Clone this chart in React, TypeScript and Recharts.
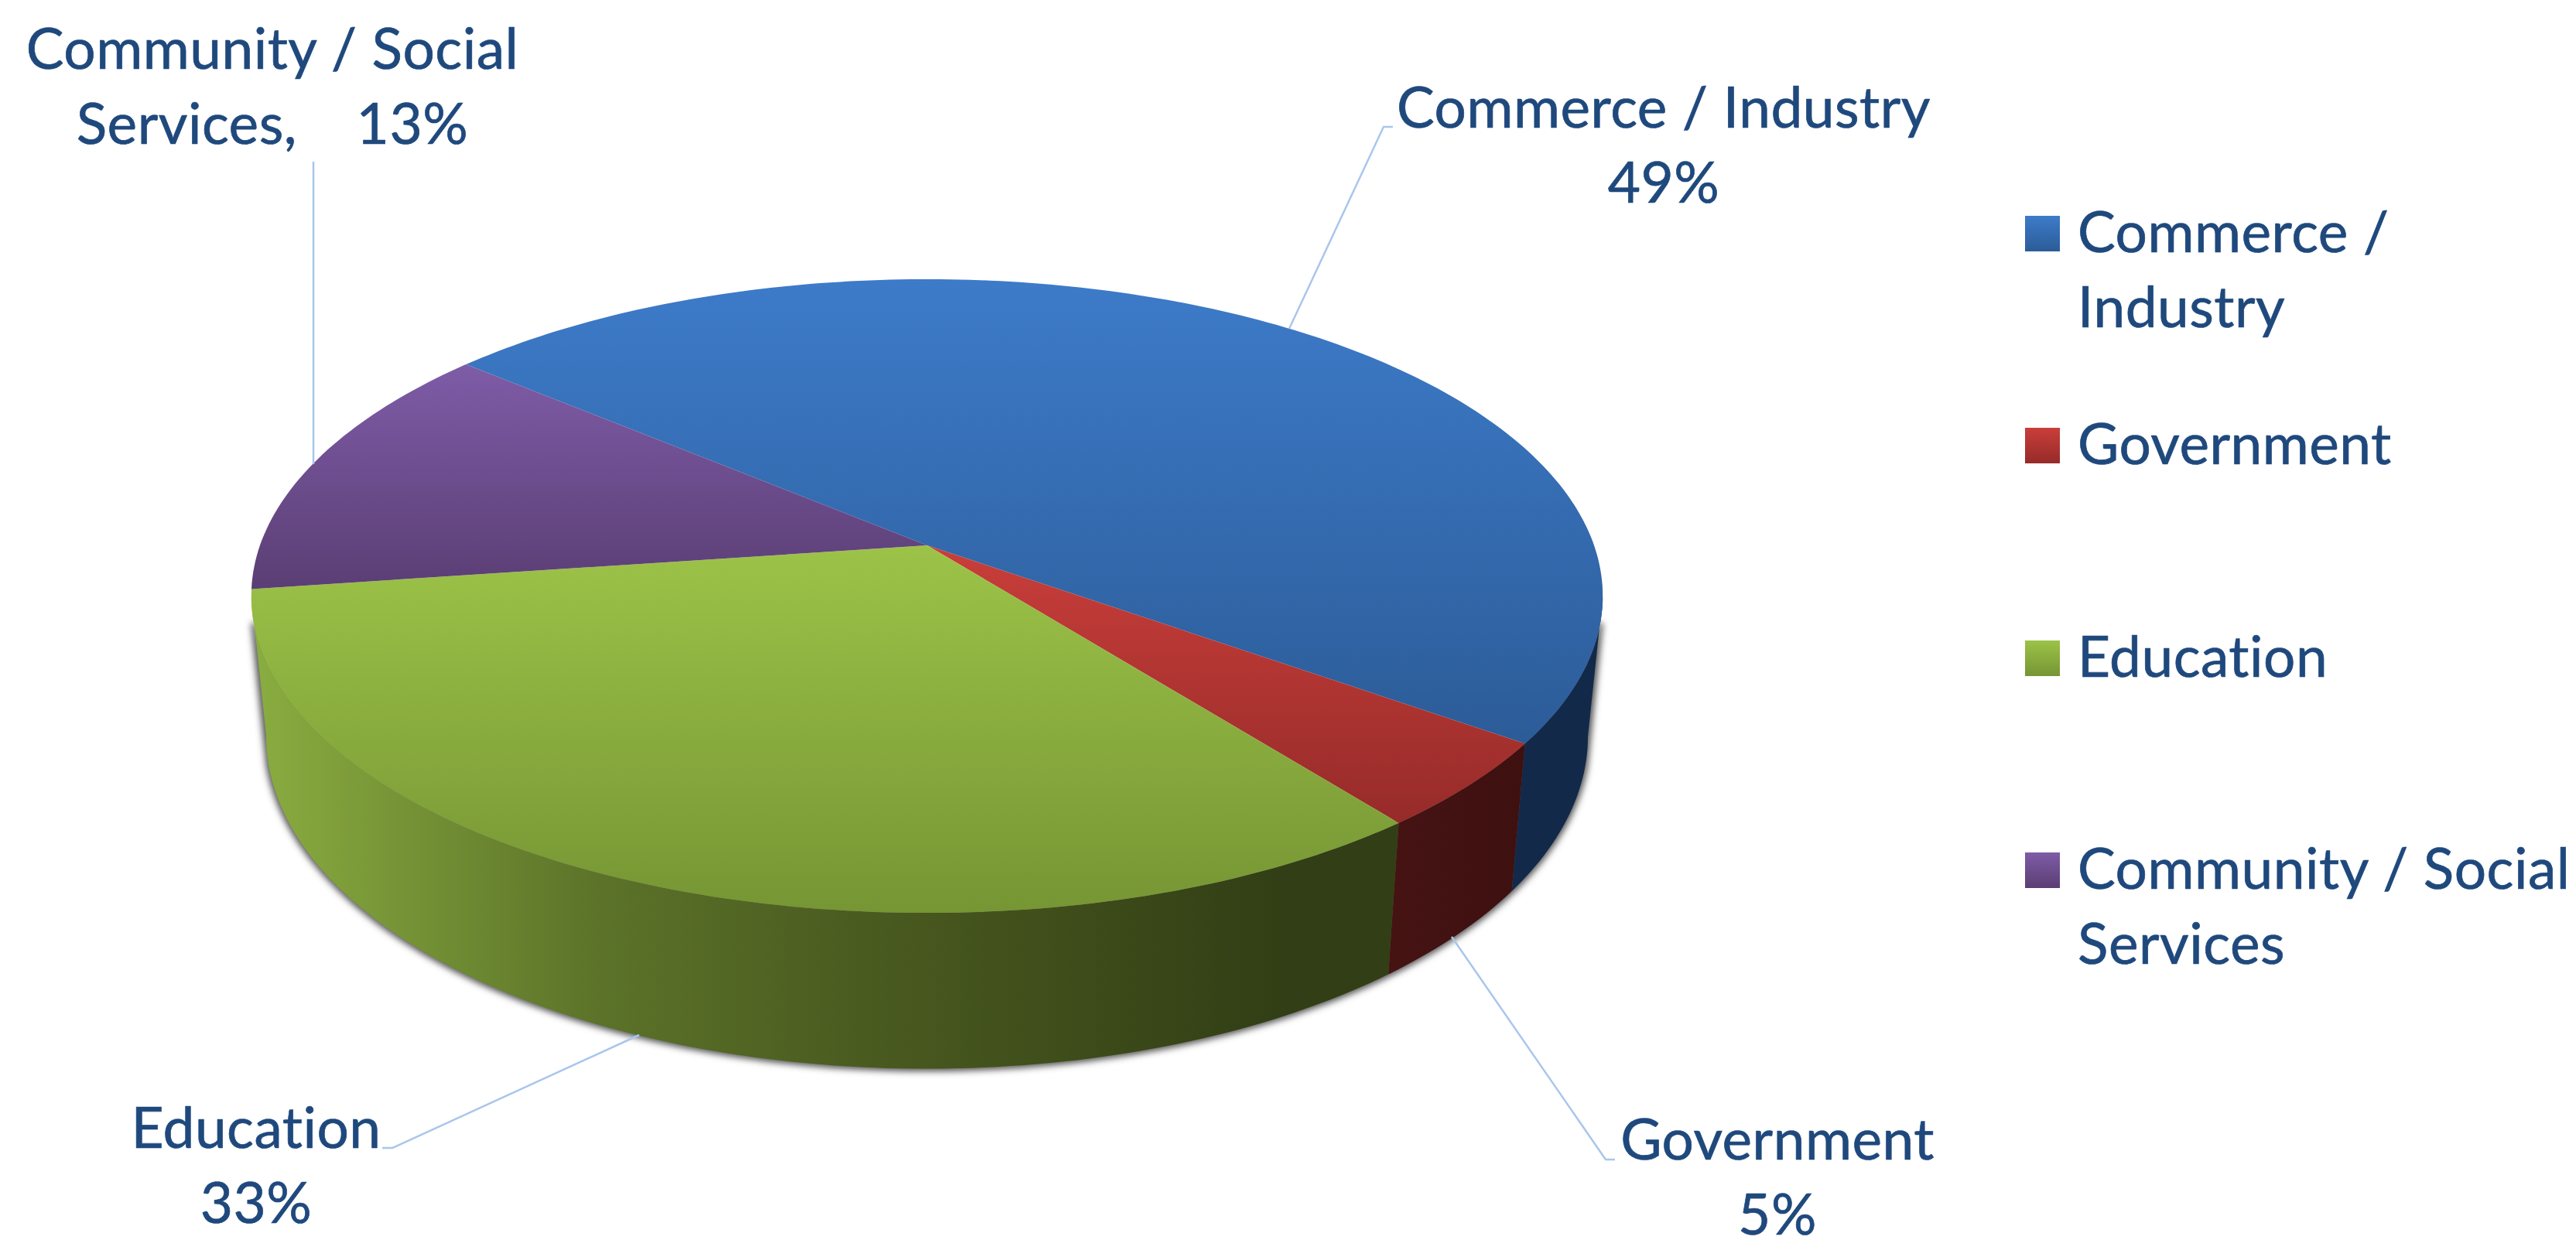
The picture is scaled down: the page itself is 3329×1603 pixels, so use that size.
import { PieChart, Pie, Legend } from "recharts";

const categories = ["Commerce / Industry", "Government", "Education", "Community / Social Services"];
// printed as whole percents, the slice angles sit slightly off those
const shares = [48.7, 4.5, 33.4, 13.4];
const labelNames = ["Commerce / Industry", "Government", "Education", "Community / Social"];
const labelPrefixes = ["", "", "", "Services,    "];
const legendLines = [["Commerce /", "Industry"], ["Government"], ["Education"], ["Community / Social", "Services"]];

const topColors = [
  ["#3d7bc9", "#2c5c98"],
  ["#c93e3a", "#962b29"],
  ["#9cc348", "#769534"],
  ["#7e5ca7", "#5b3e74"],
];
const sideStops: [number, string][][] = [
  [[0, "#12294a"], [1, "#12294a"]],
  [[0, "#461313"], [1, "#3e1010"]],
  [[0, "#8aad40"], [0.3, "#5c7329"], [0.52, "#4b5c20"], [0.9, "#323e15"]],
  [[0, "#5b3e74"], [1, "#5b3e74"]],
];

const W = 3329;
const H = 1603;
const CX = 1198;
const CY = 705;
const RADIUS = 862;
const TEXT = "#1f497d";
const LEADER = "#a9c6ec";
const FONT = "Lato, sans-serif";
const FONT_SIZE = 73;

const textStyle = { whiteSpace: "pre", fontVariantLigatures: "none", letterSpacing: 0.5 } as const;

// fake perspective for the tilted disc
const TILT = 0.16;
const SQUASH = 0.463;
const DEPTH = 178;
const BASE_SCALE = 0.978;
const RAD = Math.PI / 180;

function project(cx: number, cy: number, r: number, deg: number, lower: boolean) {
  const u = Math.cos(deg * RAD);
  const v = -Math.sin(deg * RAD);
  const w = 1 - TILT * v;
  const x = (r * u) / w;
  const y = (r * SQUASH * v) / w;
  if (!lower) return [cx + x, cy + y];
  return [cx + BASE_SCALE * x, cy + BASE_SCALE * y + DEPTH / w];
}

function sweep(start: number, end: number) {
  const out = [start];
  const dir = end < start ? -1 : 1;
  for (let a = start + dir; dir * (end - a) > 0; a += dir) out.push(a);
  out.push(end);
  return out;
}

const toPath = (pts: number[][]) => "M" + pts.map((p) => p[0].toFixed(1) + " " + p[1].toFixed(1)).join("L") + "Z";

function DiscSlice(props: any) {
  const { cx, cy, outerRadius, startAngle, endAngle, index } = props;
  const angles = sweep(startAngle, endAngle);
  const top = [[cx, cy], ...angles.map((a) => project(cx, cy, outerRadius, a, false))];
  const front = angles.filter((a) => Math.sin(a * RAD) <= -TILT + 0.001);
  const side =
    front.length > 1
      ? [
          ...front.map((a) => project(cx, cy, outerRadius, a, false)),
          ...front.slice().reverse().map((a) => project(cx, cy, outerRadius, a, true)),
        ]
      : null;
  return (
    <g>
      {side && <path d={toPath(side)} fill={`url(#side${index})`} />}
      <path d={toPath(top)} fill={`url(#top${index})`} />
    </g>
  );
}

const labelBaselines = [165, 1499, 1484, 89];
const labelCenters = [2150, 2297, 331, 352];
const leaderPoints = [
  [[1666, 425], [1788, 164], [1800, 164]],
  [[1876, 1211], [2075, 1499], [2087, 1499]],
  [[826, 1338], [507, 1484], [494, 1484]],
  [[405, 600], [405, 209]],
];

function SliceLabel(props: any) {
  const i = props.index;
  const lines = [labelNames[i], labelPrefixes[i] + Math.round(shares[i]) + "%"];
  return (
    <g>
      <polyline points={leaderPoints[i].map((p) => p.join(",")).join(" ")} fill="none" stroke={LEADER} strokeWidth={2.5} />
      {lines.map((line, n) => (
        <text
          key={n}
          x={labelCenters[i]}
          y={labelBaselines[i] + n * 97}
          textAnchor="middle"
          fill={TEXT}
          stroke={TEXT}
          strokeWidth={0.7}
          fontFamily={FONT}
          fontSize={FONT_SIZE}
          style={textStyle}
        >
          {line}
        </text>
      ))}
    </g>
  );
}

const legendBaselines = [326, 600, 875, 1149];

function LegendBlock() {
  return (
    <svg width={712} height={1300} style={{ display: "block" }}>
      {categories.map((c, i) => (
        <g key={c}>
          <rect x={0} y={legendBaselines[i] - 47} width={45} height={46} fill={`url(#top${i})`} />
          {legendLines[i].map((line, n) => (
            <text
              key={n}
              x={68}
              y={legendBaselines[i] + n * 97}
              fill={TEXT}
              stroke={TEXT}
              strokeWidth={0.7}
              fontFamily={FONT}
              fontSize={FONT_SIZE}
              style={textStyle}
            >
              {line}
            </text>
          ))}
        </g>
      ))}
    </svg>
  );
}

const data = categories.map((name, i) => ({ name, value: shares[i] }));
const rimShadow = sweep(-14, -166);

export default function App() {
  const shadow = [
    ...rimShadow.map((a) => project(CX, CY, RADIUS, a, false)),
    ...rimShadow.slice().reverse().map((a) => project(CX, CY, RADIUS, a, true)),
  ];
  return (
    <div style={{ position: "absolute", left: 0, top: 0, width: W, height: H, background: "#fff" }}>
      <PieChart width={W} height={H} margin={{ top: 0, right: 0, bottom: 0, left: 0 }}>
        <defs>
          {topColors.map((c, i) => (
            <linearGradient key={i} id={`top${i}`} x1="0" y1="0" x2="0" y2="1">
              <stop offset="0" stopColor={c[0]} />
              <stop offset="1" stopColor={c[1]} />
            </linearGradient>
          ))}
          {sideStops.map((stops, i) => (
            <linearGradient key={i} id={`side${i}`} x1="0" y1="0" x2="1" y2="0">
              {stops.map((s) => (
                <stop key={s[0]} offset={s[0]} stopColor={s[1]} />
              ))}
            </linearGradient>
          ))}
          <filter id="rimBlur" x="-5%" y="-5%" width="110%" height="110%">
            <feGaussianBlur stdDeviation={4} />
          </filter>
        </defs>
        <path d={toPath(shadow)} fill="#555" stroke="#555" strokeWidth={7} filter="url(#rimBlur)" />
        <Legend
          content={<LegendBlock />}
          wrapperStyle={{ position: "absolute", left: 2617, top: 0, width: 712, height: 1300 }}
        />
        <Pie
          data={data}
          dataKey="value"
          nameKey="name"
          cx={CX}
          cy={CY}
          innerRadius={0}
          outerRadius={RADIUS}
          startAngle={139.7}
          endAngle={-220.3}
          stroke="none"
          shape={DiscSlice}
          label={SliceLabel}
          labelLine={false}
          isAnimationActive={false}
        />
      </PieChart>
    </div>
  );
}
